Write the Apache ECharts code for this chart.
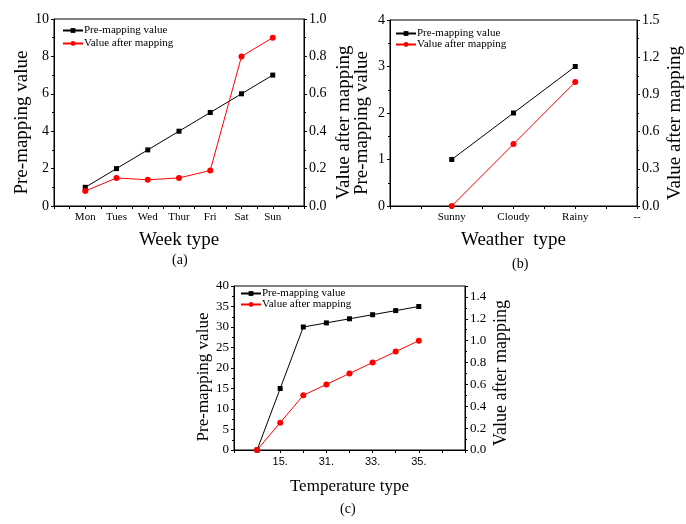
<!DOCTYPE html>
<html>
<head>
<meta charset="utf-8">
<script src="https://cdn.jsdelivr.net/npm/echarts@6/dist/echarts.min.js"></script>
<style>
  html, body { margin: 0; padding: 0; background: #fff; }
  #chart { width: 686px; height: 524px; }
</style>
</head>
<body>
<div id="chart"></div>
<script>
// (a) week
const weekDays = ['Mon', 'Tues', 'Wed', 'Thur', 'Fri', 'Sat', 'Sun'];
const weekPre = [1, 2, 3, 4, 5, 6, 7];
const weekAfter = [0.08, 0.15, 0.14, 0.15, 0.19, 0.8, 0.9];
// (b) weather
const weatherTypes = ['Sunny', 'Cloudy', 'Rainy'];
const weatherPre = [1, 2, 3];
const weatherAfter = [0, 0.5, 1.0];
// (c) temperature
const tempTypes = ['', '15.', '30.', '31.', '32.', '33.', '34.', '35.'];
const tempPre = [0, 15, 30, 31, 32, 33, 34, 35];
const tempAfter = [0, 0.25, 0.5, 0.6, 0.7, 0.8, 0.9, 1.0];

const serif = 'Liberation Serif';
const PRE = 'Pre-mapping value';
const AFTER = 'Value after mapping';

function pairs(vals) {
  return vals.map((v, i) => [i + 1, v]);
}

function xAxis(gridIndex, max, fmt, name, nameGap, nameSize, labelFont) {
  return {
    type: 'value', gridIndex, min: 0, max, interval: 1,
    axisLine: { lineStyle: { color: '#000', width: 1 } },
    axisTick: { show: true, length: 3, lineStyle: { color: '#000' } },
    minorTick: { show: true, splitNumber: 2, length: 3, lineStyle: { color: '#000' } },
    splitLine: { show: false },
    axisLabel: { formatter: fmt, color: '#000', fontFamily: labelFont || serif, fontSize: 11, margin: 6,
      showMinLabel: true, showMaxLabel: true },
    name, nameLocation: 'middle', nameGap,
    nameTextStyle: { color: '#000', fontFamily: serif, fontSize: nameSize }
  };
}

// shift = how far (px) the rotated name sits below the middle of the axis
function yAxis(gridIndex, position, max, interval, name, nameGap, nameSize, labelSize, digits, shift) {
  return {
    type: 'value', gridIndex, position, min: 0, max, interval,
    axisLine: { show: true, lineStyle: { color: '#000', width: 1 } },
    axisTick: { show: true, length: 3, lineStyle: { color: '#000' } },
    minorTick: { show: true, splitNumber: 2, length: 2, lineStyle: { color: '#000' } },
    splitLine: { show: false },
    axisLabel: { color: '#000', fontFamily: serif, fontSize: labelSize, margin: 5,
      formatter: v => Math.abs(v / interval - Math.round(v / interval)) > 1e-6 ? '' : v.toFixed(digits) },
    name, nameLocation: 'middle', nameGap,
    nameTextStyle: { color: '#000', fontFamily: serif, fontSize: nameSize, padding: [0, shift * 2, 0, 0] }
  };
}

function preSeries(idx, vals) {
  return {
    name: PRE, type: 'line', xAxisIndex: idx, yAxisIndex: idx * 2,
    data: pairs(vals), symbol: 'rect', symbolSize: 5, showSymbol: true,
    itemStyle: { color: '#000' }, lineStyle: { color: '#000', width: 1 }, animation: false
  };
}

function afterSeries(idx, vals) {
  return {
    name: AFTER, type: 'line', xAxisIndex: idx, yAxisIndex: idx * 2 + 1,
    data: pairs(vals), symbol: 'circle', symbolSize: 6, showSymbol: true,
    itemStyle: { color: '#ff0000' }, lineStyle: { color: '#ff0000', width: 1 }, animation: false
  };
}

function legend(left, top, gap) {
  return {
    data: [PRE, AFTER], orient: 'vertical', left, top,
    itemWidth: 20, itemHeight: 6, itemGap: gap, padding: 0, selectedMode: false,
    textStyle: { color: '#000', fontFamily: serif, fontSize: 11, padding: [0, 0, 0, -4] }
  };
}

const gridBox = { show: true, borderColor: '#000', borderWidth: 1, containLabel: false };

const option = {
  backgroundColor: '#fff',
  animation: false,
  grid: [
    Object.assign({ left: 54, top: 19, width: 250, height: 187 }, gridBox),
    Object.assign({ left: 390, top: 20, width: 253, height: 186 }, gridBox),
    Object.assign({ left: 234, top: 286, width: 231, height: 164 }, gridBox)
  ],
  legend: [legend(62, 25, 2), legend(395, 28, 0), legend(240, 288, 0)],
  xAxis: [
    xAxis(0, 8, v => weekDays[v - 1] || '', 'Week type', 25, 19),
    xAxis(1, 4, v => weatherTypes[v - 1] || (v === 4 ? '--' : ''), 'Weather  type', 25, 19),
    Object.assign(xAxis(2, 10, v => (v % 2 === 0 && tempTypes[v - 1]) || '', 'Temperature type', 28, 17, 'Liberation Sans'),
      { axisTick: { show: true, length: 3, interval: 0, lineStyle: { color: '#000' } }, minorTick: { show: false } })
  ],
  yAxis: [
    yAxis(0, 'left', 10, 2, PRE, 21, 19, 14, 0, 10),
    yAxis(0, 'right', 1.0, 0.2, AFTER, 31, 19, 14, 1, 10),
    yAxis(1, 'left', 4, 1, PRE, 18, 19, 14, 0, 10),
    yAxis(1, 'right', 1.5, 0.3, AFTER, 29, 19, 14, 1, 10),
    yAxis(2, 'left', 40, 5, PRE, 19, 17, 13, 0, 9),
    yAxis(2, 'right', 1.5, 0.2, AFTER, 27, 18, 13, 1, 5)
  ],
  graphic: [
    { type: 'text', left: 172, top: 253, style: { text: '(a)', font: '14px "Liberation Serif"', fill: '#000' } },
    { type: 'text', left: 512, top: 257, style: { text: '(b)', font: '14px "Liberation Serif"', fill: '#000' } },
    { type: 'text', left: 340, top: 502, style: { text: '(c)', font: '14px "Liberation Serif"', fill: '#000' } }
  ],
  series: [
    preSeries(0, weekPre), afterSeries(0, weekAfter),
    preSeries(1, weatherPre), afterSeries(1, weatherAfter),
    preSeries(2, tempPre), afterSeries(2, tempAfter)
  ]
};

const chart = echarts.init(document.getElementById('chart'));
chart.setOption(option);
</script>
</body>
</html>
